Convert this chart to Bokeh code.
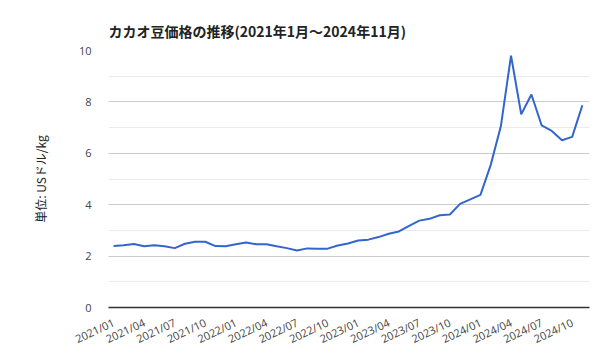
from bokeh.plotting import figure
from bokeh.models import Range1d, FixedTicker, SingleIntervalTicker
from bokeh.embed import file_html
from bokeh.resources import INLINE

months = [f"{y}/{m:02d}" for y in range(2021, 2025) for m in range(1, 13)][:47]
prices = [2.39, 2.42, 2.47, 2.38, 2.42, 2.38, 2.31, 2.48, 2.56, 2.56, 2.39, 2.38,
          2.46, 2.53, 2.46, 2.46, 2.38, 2.31, 2.22, 2.30, 2.29, 2.29, 2.41, 2.49,
          2.61, 2.64, 2.74, 2.87, 2.96, 3.18, 3.38, 3.45, 3.59, 3.62, 4.03, 4.21,
          4.38, 5.54, 7.05, 9.80, 7.52, 8.29, 7.09, 6.87, 6.51, 6.64, 7.87]
tick_idx = list(range(0, 47, 3))
tick_labels = {i: months[i] for i in tick_idx}
title = "カカオ豆価格の推移(2021年1月～2024年11月)"
ylabel = "単位: USドル/kg"

FONT = "Noto Sans CJK JP"
TICKFONT = "Open Sans"
x = list(range(len(prices)))

p = figure(width=592, height=355, output_backend="svg", toolbar_location=None,
           x_range=Range1d(-0.5, 46.7), y_range=Range1d(0, 10),
           min_border_left=108, min_border_right=3, min_border_top=50, min_border_bottom=44,
           title=title)
p.outline_line_color = None
p.title.text_font = FONT
p.title.text_font_size = "14px"
p.title.text_font_style = "bold"
p.title.text_color = "#222222"
p.title.align = "left"
p.title.standoff = 20

p.line(x, prices, line_color="#3366cc", line_width=2)

p.xaxis.ticker = FixedTicker(ticks=tick_idx)
p.xaxis.major_label_overrides = tick_labels
p.xaxis.major_label_orientation = 0.44
p.xaxis.major_tick_line_color = None
p.xaxis.minor_tick_line_color = None
p.xaxis.axis_line_color = "#333333"
p.xaxis.axis_line_width = 1.5
p.xaxis.major_label_text_font = TICKFONT
p.xaxis.major_label_text_font_size = "11px"
p.xaxis.major_label_text_color = "#444444"
p.xaxis.major_label_standoff = 8

p.yaxis.ticker = SingleIntervalTicker(interval=2, num_minor_ticks=2)
p.yaxis.axis_line_color = None
p.yaxis.major_tick_line_color = None
p.yaxis.minor_tick_line_color = None
p.yaxis.major_label_text_font = TICKFONT
p.yaxis.major_label_text_font_size = "11px"
p.yaxis.major_label_text_color = "#444444"
p.yaxis.major_label_standoff = 11
p.yaxis.axis_label = ylabel
p.yaxis.axis_label_text_font = FONT
p.yaxis.axis_label_text_font_size = "12px"
p.yaxis.axis_label_text_font_style = "normal"
p.yaxis.axis_label_text_color = "#222222"
p.yaxis.axis_label_standoff = 27

p.xgrid.grid_line_color = None
p.ygrid.grid_line_color = "#cccccc"
p.ygrid.minor_grid_line_color = "#ebebeb"

open("out.html", "w").write(file_html(p, INLINE))
